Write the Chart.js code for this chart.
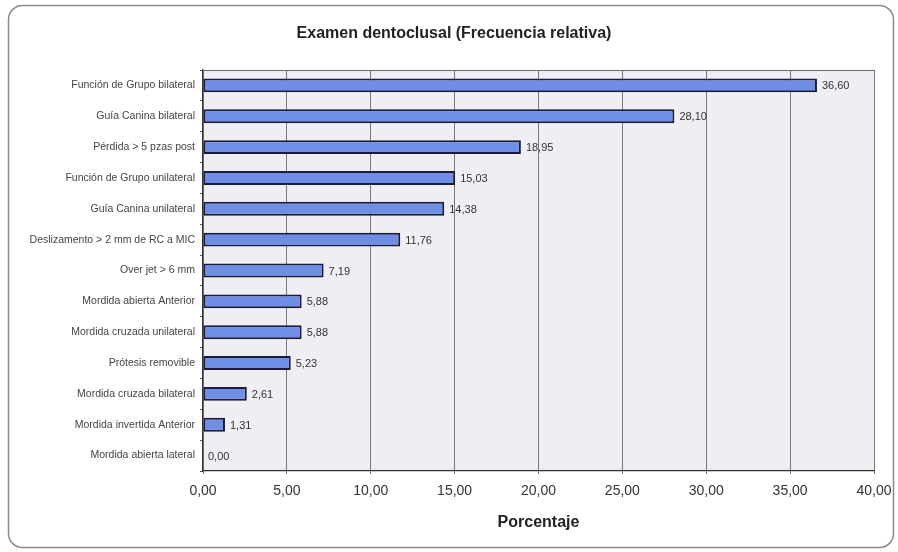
<!DOCTYPE html>
<html>
<head>
<meta charset="utf-8">
<script src="https://cdn.jsdelivr.net/npm/chart.js@4/dist/chart.umd.min.js"></script>
<style>
  html, body { margin: 0; padding: 0; background: #fff; }
  #wrap { width: 898px; height: 552px; }
</style>
</head>
<body>
<div id="wrap"><canvas id="c" width="898" height="552"></canvas></div>
<script>
// Examen dentoclusal — frecuencia relativa (%)
const categories = [
  'Función de Grupo bilateral',
  'Guía Canina bilateral',
  'Pérdida > 5 pzas post',
  'Función de Grupo unilateral',
  'Guía Canina unilateral',
  'Deslizamento > 2 mm de RC a MIC',
  'Over jet > 6 mm',
  'Mordida abierta Anterior',
  'Mordida cruzada unilateral',
  'Prótesis removible',
  'Mordida cruzada bilateral',
  'Mordida invertida Anterior',
  'Mordida abierta lateral'
];
const porcentajes = [36.60, 28.10, 18.95, 15.03, 14.38, 11.76, 7.19, 5.88, 5.88, 5.23, 2.61, 1.31, 0.00];
const xTicks = [0, 5, 10, 15, 20, 25, 30, 35, 40];
const chartTitle = 'Examen dentoclusal (Frecuencia relativa)';

const FONT = '"Liberation Sans", Arial, sans-serif';
const fmt = v => v.toFixed(2).replace('.', ',');

// Rounded outer frame, title, plot background and its top border
const framePlugin = {
  id: 'frame',
  beforeDraw(chart) {
    const ctx = chart.ctx, a = chart.chartArea;
    ctx.save();
    ctx.fillStyle = '#ffffff';
    ctx.fillRect(0, 0, chart.width, chart.height);
    ctx.beginPath();
    ctx.roundRect(8.5, 5.5, 885, 542, 14);
    ctx.strokeStyle = '#8a8a8a';
    ctx.lineWidth = 1.5;
    ctx.stroke();
    ctx.fillStyle = '#efeff3';
    ctx.fillRect(a.left, a.top, a.right - a.left, a.bottom - a.top);
    ctx.font = 'bold 16px ' + FONT;
    ctx.fillStyle = '#222222';
    ctx.textAlign = 'center';
    ctx.textBaseline = 'middle';
    ctx.fillText(chartTitle, 454, 34);
    ctx.restore();
  },
  beforeDatasetsDraw(chart) {
    const ctx = chart.ctx, a = chart.chartArea;
    ctx.save();
    ctx.strokeStyle = '#6a6a6a';
    ctx.lineWidth = 1;
    ctx.beginPath();
    ctx.moveTo(a.left, Math.round(a.top) + 0.5);
    ctx.lineTo(a.right, Math.round(a.top) + 0.5);
    ctx.stroke();
    ctx.restore();
  }
};

// Value label at the end of each bar
const valueLabels = {
  id: 'valueLabels',
  afterDatasetsDraw(chart) {
    const ctx = chart.ctx;
    const meta = chart.getDatasetMeta(0);
    ctx.save();
    ctx.font = '11px ' + FONT;
    ctx.fillStyle = '#333333';
    ctx.textAlign = 'left';
    ctx.textBaseline = 'middle';
    meta.data.forEach((bar, i) => {
      ctx.fillText(fmt(porcentajes[i]), bar.x + 5, bar.y + 1);
    });
    ctx.restore();
  }
};

new Chart(document.getElementById('c'), {
  type: 'bar',
  data: {
    labels: categories,
    datasets: [{
      data: porcentajes,
      backgroundColor: '#6f8fe6',
      borderColor: '#1a1a3a',
      borderWidth: 2,
      borderSkipped: false,
      categoryPercentage: 1,
      barPercentage: 0.45
    }]
  },
  options: {
    indexAxis: 'y',
    responsive: false,
    animation: false,
    layout: { padding: { left: 16, right: 24, top: 70, bottom: 0 } },
    plugins: {
      legend: { display: false },
      tooltip: { enabled: false },
      title: { display: false }
    },
    scales: {
      x: {
        min: 0,
        max: 40,
        afterBuildTicks(scale) { scale.ticks = xTicks.map(v => ({ value: v })); },
        afterFit(scale) {
          scale.height = 81;
          scale.paddingLeft = 0;
          scale.paddingRight = 0;
        },
        ticks: {
          color: '#333333',
          font: { family: FONT, size: 14 },
          padding: 9,
          maxRotation: 0,
          callback: v => fmt(v)
        },
        grid: { color: '#7a7a7a', lineWidth: 1, tickLength: 3 },
        border: { color: '#333333', width: 1.2 },
        title: {
          display: true,
          text: 'Porcentaje',
          color: '#222222',
          font: { family: FONT, size: 16, weight: 'bold' },
          padding: { top: 0, bottom: 20 }
        }
      },
      y: {
        afterFit(scale) { scale.width = 187; },
        ticks: {
          color: '#444444',
          font: { family: FONT, size: 10.5 },
          padding: 5
        },
        grid: { drawOnChartArea: false, tickLength: 3, color: '#555555', offset: true },
        border: { color: '#333333', width: 1.2 }
      }
    }
  },
  plugins: [framePlugin, valueLabels]
});
</script>
</body>
</html>
